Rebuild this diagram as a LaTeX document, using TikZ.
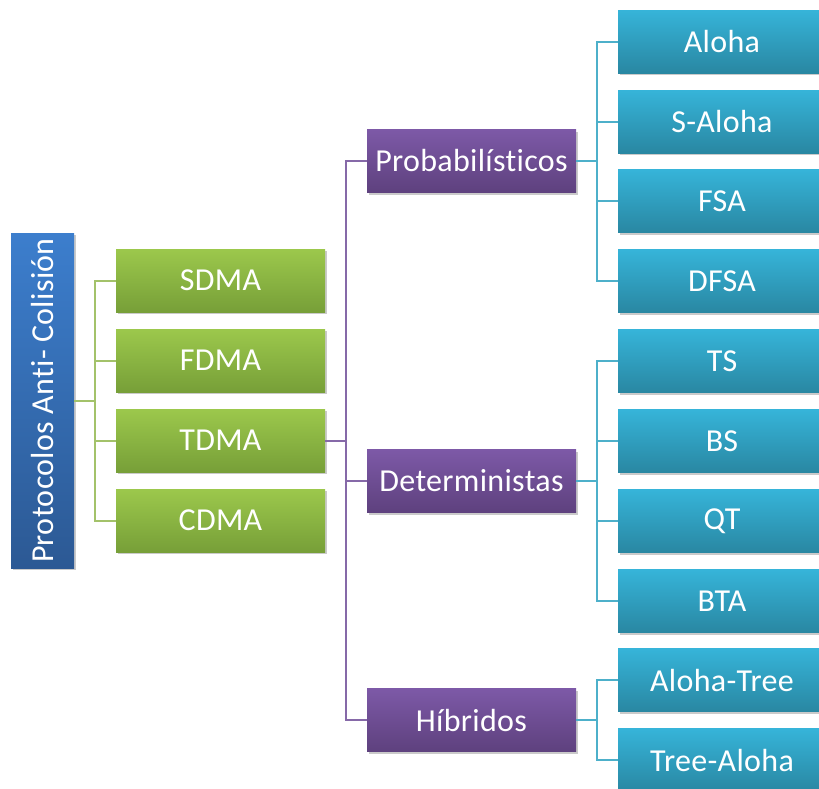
\documentclass[tikz,border=0pt]{standalone}
\usepackage{fontspec}
\setmainfont{Carlito}[Ligatures=NoCommon, LetterSpace=1.0]
\usetikzlibrary{shadows}
\definecolor{rootTop}{HTML}{3C7ECD}
\definecolor{rootBot}{HTML}{2C5994}
\definecolor{grnTop}{HTML}{9CC84C}
\definecolor{grnBot}{HTML}{779F38}
\definecolor{purTop}{HTML}{7D59A7}
\definecolor{purBot}{HTML}{5E417E}
\definecolor{cyaTop}{HTML}{36B4D9}
\definecolor{cyaBot}{HTML}{2987A2}
\definecolor{grnLine}{HTML}{A3C26A}
\definecolor{purLine}{HTML}{8669A8}
\definecolor{cyaLine}{HTML}{4DB0CA}
\tikzset{
  box/.style={rectangle, inner sep=0pt, text=white,
    font=\fontsize{32}{38}\selectfont,
    drop shadow={shadow xshift=1.5pt, shadow yshift=-2pt, opacity=0.35, fill=black!60}},
  rootbox/.style={box, minimum width=63pt, minimum height=335pt,
    top color=rootTop, bottom color=rootBot},
  grnbox/.style={box, minimum width=209pt, minimum height=63pt,
    top color=grnTop, bottom color=grnBot},
  purbox/.style={box, minimum width=209pt, minimum height=63pt,
    top color=purTop, bottom color=purBot},
  cyabox/.style={box, minimum width=214pt, minimum height=63pt,
    top color=cyaTop, bottom color=cyaBot, text width=202pt, align=center},
  gline/.style={draw=grnLine, line width=2pt},
  pline/.style={draw=purLine, line width=2pt},
  cline/.style={draw=cyaLine, line width=2pt},
}
% labels of the right column sit a little left of the box centre
\newcommand{\lbl}[1]{\hspace*{-6pt}#1}
\begin{document}
\begin{tikzpicture}[x=1pt,y=-1pt]
\useasboundingbox (0,0) rectangle (819,788);
\clip (0,0) rectangle (819,788);

% root
\node[rootbox] (root) at (42.5,400.5) {\rotatebox{90}{Protocolos Anti- Colisión}};

% access methods
\node[grnbox] (sdma) at (220.5,280.5) {SDMA};
\node[grnbox] (fdma) at (220.5,360.5) {FDMA};
\node[grnbox] (tdma) at (220.5,440.5) {TDMA};
\node[grnbox] (cdma) at (220.5,520.5) {CDMA};

% TDMA families
\node[purbox] (prob) at (471.5,161) {Probabilísticos};
\node[purbox] (det)  at (471.5,481) {Deterministas};
\node[purbox] (hib)  at (471.5,720) {Híbridos};

% concrete protocols
\node[cyabox] (aloha)  at (725,41.5)  {\lbl{Aloha}};
\node[cyabox] (saloha) at (725,121.5) {\lbl{S-Aloha}};
\node[cyabox] (fsa)    at (725,201)   {\lbl{FSA}};
\node[cyabox] (dfsa)   at (725,281)   {\lbl{DFSA}};
\node[cyabox] (ts)     at (725,361)   {\lbl{TS}};
\node[cyabox] (bs)     at (725,441)   {\lbl{BS}};
\node[cyabox] (qt)     at (725,521)   {\lbl{QT}};
\node[cyabox] (bta)    at (725,601)   {\lbl{BTA}};
\node[cyabox] (atree)  at (725,680)   {\lbl{Aloha-Tree}};
\node[cyabox] (taloha) at (725,760)   {\lbl{Tree-Aloha}};

% junction points
\coordinate (gj) at (95,400.5);
\coordinate (pj) at (346,440.5);
\coordinate (cj1) at (597,161);
\coordinate (cj2) at (597,481);
\coordinate (cj3) at (597,720);

% root -> access methods
\draw[gline] (root.east) -- (gj);
\draw[gline] (gj) |- (sdma.west);
\draw[gline] (gj) |- (fdma.west);
\draw[gline] (gj) |- (tdma.west);
\draw[gline] (gj) |- (cdma.west);

% TDMA -> families
\draw[pline] (tdma.east) -- (pj);
\draw[pline] (pj) |- (prob.west);
\draw[pline] (pj) |- (det.west);
\draw[pline] (pj) |- (hib.west);

% families -> protocols
\draw[cline] (prob.east) -- (cj1);
\draw[cline] (cj1) |- (aloha.west);
\draw[cline] (cj1) |- (saloha.west);
\draw[cline] (cj1) |- (fsa.west);
\draw[cline] (cj1) |- (dfsa.west);
\draw[cline] (det.east) -- (cj2);
\draw[cline] (cj2) |- (ts.west);
\draw[cline] (cj2) |- (bs.west);
\draw[cline] (cj2) |- (qt.west);
\draw[cline] (cj2) |- (bta.west);
\draw[cline] (hib.east) -- (cj3);
\draw[cline] (cj3) |- (atree.west);
\draw[cline] (cj3) |- (taloha.west);
\end{tikzpicture}
\end{document}
